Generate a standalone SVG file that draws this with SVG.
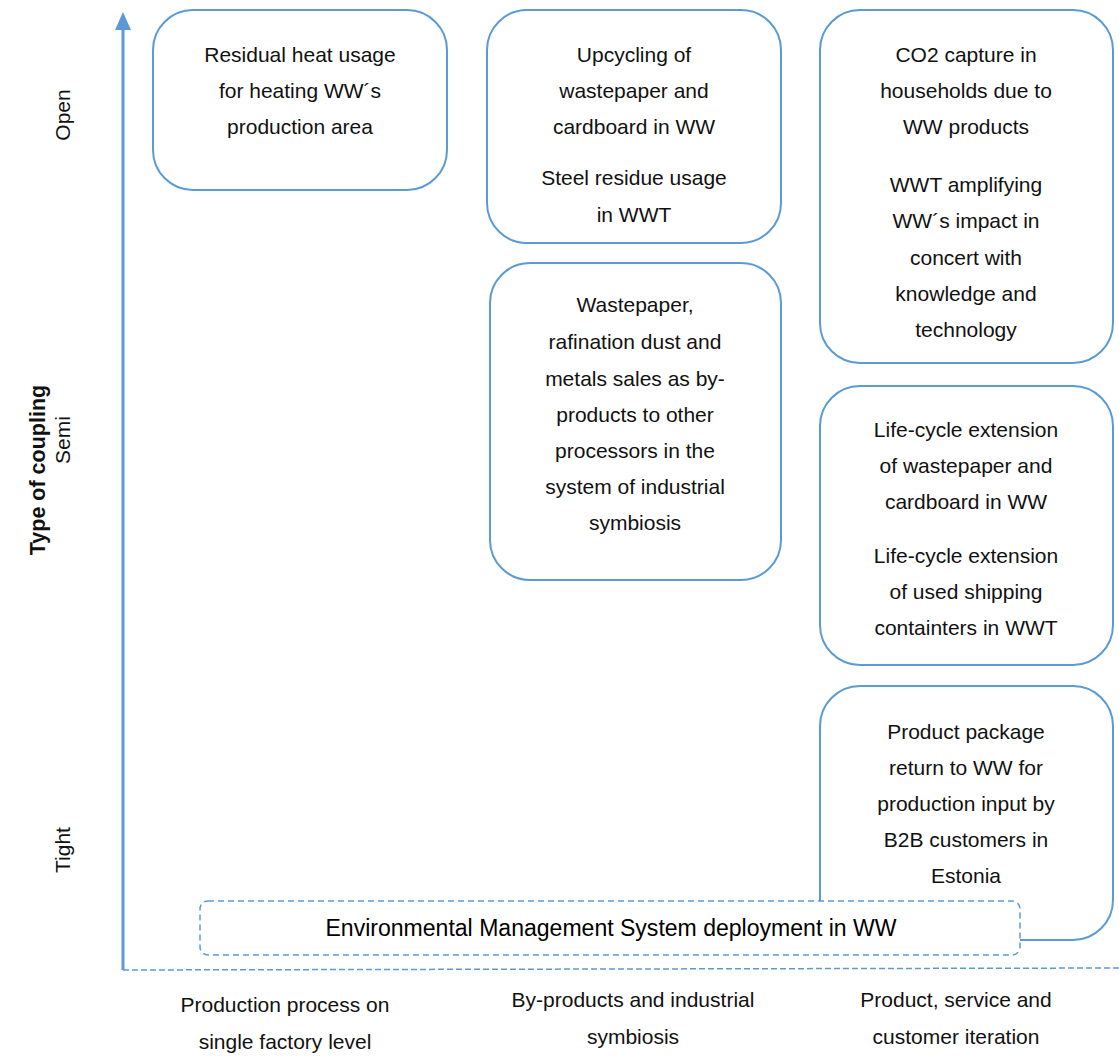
<svg xmlns="http://www.w3.org/2000/svg" width="1119" height="1057" viewBox="0 0 1119 1057">
<defs>
<style>
.box{fill:#fff;stroke:#5b9bd5;stroke-width:2}
.dash{fill:#fff;stroke:#5b9bd5;stroke-width:1.5;stroke-dasharray:6 4}
.t{font-family:"Liberation Sans",Arial,sans-serif;font-size:21px;fill:#111;text-anchor:middle}
.ax{font-family:"Liberation Sans",Arial,sans-serif;font-size:21px;fill:#111;text-anchor:middle}
.axb{font-family:"Liberation Sans",Arial,sans-serif;font-size:21.5px;font-weight:bold;fill:#111;text-anchor:middle}
.ems{font-family:"Liberation Sans",Arial,sans-serif;font-size:23px;fill:#000;text-anchor:middle}
</style>
</defs>
<rect width="1119" height="1057" fill="#fff"/>
<g id="connectors">
<line x1="123" y1="970" x2="123" y2="22" stroke="#5b9bd5" stroke-width="3"/>
<path d="M115,30 L123,12 L131,30 Z" fill="#5b9bd5"/>
<line x1="123" y1="970" x2="1119" y2="968" stroke="#5b9bd5" stroke-width="1.5" stroke-dasharray="6 3"/>
</g>
<g id="axis-labels">
<text class="ax" transform="translate(70,115) rotate(-90)">Open</text>
<text class="ax" transform="translate(70,440) rotate(-90)">Semi</text>
<text class="ax" transform="translate(70,850) rotate(-90)">Tight</text>
<text class="axb" transform="translate(45,470) rotate(-90)">Type of coupling</text>
<text class="t" x="285" y="1012">Production process on</text>
<text class="t" x="285" y="1049">single factory level</text>
<text class="t" x="633" y="1007">By-products and industrial</text>
<text class="t" x="633" y="1044">symbiosis</text>
<text class="t" x="956" y="1007">Product, service and</text>
<text class="t" x="956" y="1044">customer iteration</text>
</g>
<g id="box1">
<rect class="box" x="153" y="10" width="294" height="180" rx="40"/>
<text class="t" x="300" y="62">Residual heat usage</text>
<text class="t" x="300" y="98">for heating WW´s</text>
<text class="t" x="300" y="134">production area</text>
</g>
<g id="box2">
<rect class="box" x="487" y="10" width="294" height="233" rx="40"/>
<text class="t" x="634" y="62">Upcycling of</text>
<text class="t" x="634" y="98">wastepaper and</text>
<text class="t" x="634" y="134">cardboard in WW</text>
<text class="t" x="634" y="185">Steel residue usage</text>
<text class="t" x="634" y="222">in WWT</text>
</g>
<g id="box3">
<rect class="box" x="490" y="263" width="291" height="317" rx="40"/>
<text class="t" x="635" y="312">Wastepaper,</text>
<text class="t" x="635" y="349">rafination dust and</text>
<text class="t" x="635" y="386">metals sales as by-</text>
<text class="t" x="635" y="422">products to other</text>
<text class="t" x="635" y="458">processors in the</text>
<text class="t" x="635" y="494">system of industrial</text>
<text class="t" x="635" y="530">symbiosis</text>
</g>
<g id="box4">
<rect class="box" x="820" y="10" width="293" height="353" rx="40"/>
<text class="t" x="966" y="62">CO2 capture in</text>
<text class="t" x="966" y="98">households due to</text>
<text class="t" x="966" y="134">WW products</text>
<text class="t" x="966" y="192">WWT amplifying</text>
<text class="t" x="966" y="228">WW´s impact in</text>
<text class="t" x="966" y="265">concert with</text>
<text class="t" x="966" y="301">knowledge and</text>
<text class="t" x="966" y="337">technology</text>
</g>
<g id="box5">
<rect class="box" x="820" y="386" width="293" height="279" rx="40"/>
<text class="t" x="966" y="437">Life-cycle extension</text>
<text class="t" x="966" y="473">of wastepaper and</text>
<text class="t" x="966" y="509">cardboard in WW</text>
<text class="t" x="966" y="563">Life-cycle extension</text>
<text class="t" x="966" y="599">of used shipping</text>
<text class="t" x="966" y="635">containters in WWT</text>
</g>
<g id="box6">
<rect class="box" x="820" y="686" width="293" height="254" rx="40"/>
<text class="t" x="966" y="739">Product package</text>
<text class="t" x="966" y="775">return to WW for</text>
<text class="t" x="966" y="811">production input by</text>
<text class="t" x="966" y="847">B2B customers in</text>
<text class="t" x="966" y="883">Estonia</text>
</g>
<g id="ems">
<rect class="dash" x="200" y="901" width="820" height="54" rx="8"/>
<text class="ems" x="611" y="936" textLength="571" lengthAdjust="spacingAndGlyphs">Environmental Management System deployment in WW</text>
</g>
</svg>
